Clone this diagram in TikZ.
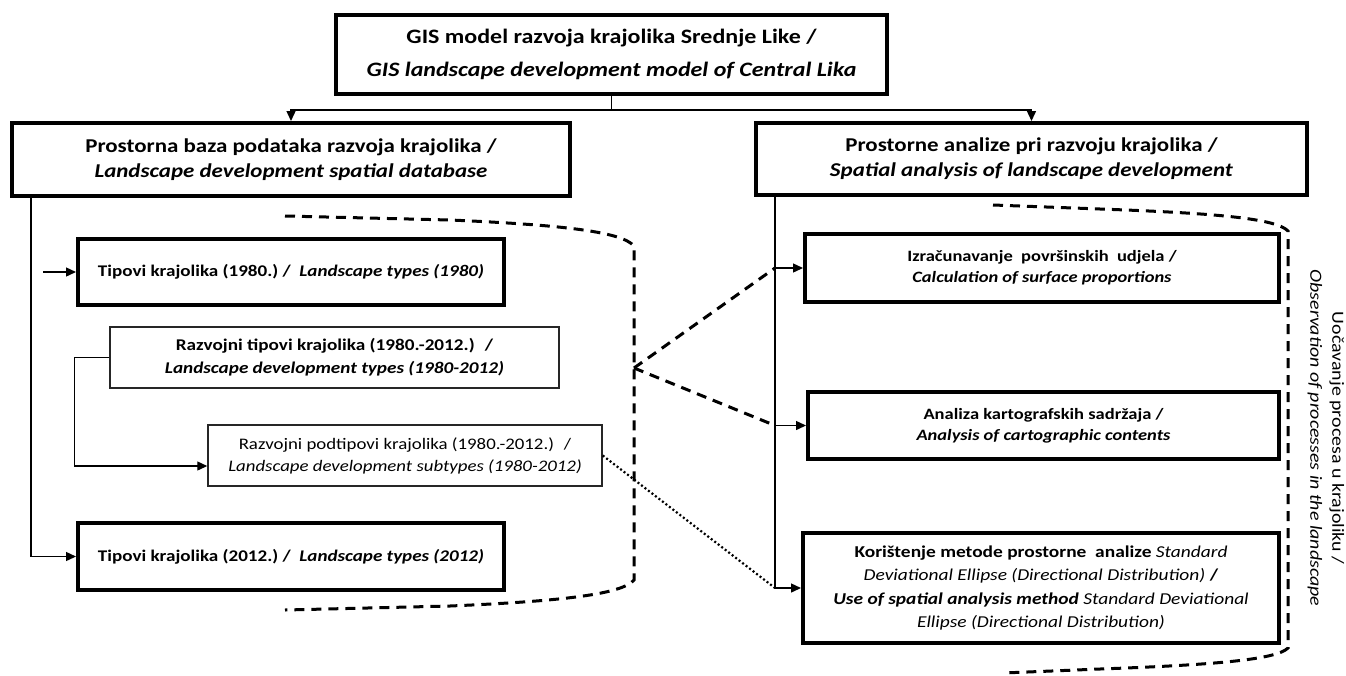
\documentclass[tikz,border=0pt]{standalone}
\usepackage{fontspec}
\setmainfont{Carlito}[FakeStretch=1.17]
\usepackage{tikz}
\usetikzlibrary{arrows.meta}

\begin{document}
\begin{tikzpicture}[x=1pt,y=-1pt,
	okvir/.style={draw=black,line width=4pt,align=center,inner sep=0pt},
	tanki/.style={draw=black!85,line width=1.5pt,align=center,inner sep=0pt},
	veza/.style={draw=black,line width=1.4pt},
	strelica/.style={-{Triangle[length=10pt,width=9pt]}},
	crtkano/.style={line width=3pt,dash pattern=on 10pt off 7pt},
	tockasto/.style={line width=2.2pt,dash pattern=on 2pt off 2.4pt}]
%	\draw[help lines](0,0)grid[step=50](1346,675);
	\useasboundingbox (0,0) rectangle (1346,675);
	
	% gornja razina
	\node[okvir,minimum width=551pt,minimum height=79pt,font=\fontsize{20.5}{33}\selectfont\bfseries] (model) at (611.5,54.5)
		{GIS model razvoja krajolika Srednje Like /\\\textit{GIS landscape development model of Central Lika}};
	\node[okvir,minimum width=558pt,minimum height=73pt,font=\fontsize{19.6}{25}\selectfont\bfseries] (base) at (291,159.5)
		{Prostorna baza podataka razvoja krajolika /\\\textit{Landscape development spatial database}};
	\node[okvir,minimum width=551pt,minimum height=72pt,font=\fontsize{19.6}{25}\selectfont\bfseries] (analiza) at (1031.5,159)
		{Prostorne analize pri razvoju krajolika /\\\textit{Spatial analysis of landscape development}};
	
	% lijeva strana
	\node[okvir,minimum width=426pt,minimum height=66pt,font=\fontsize{16.3}{22}\selectfont\bfseries] (tip80) at (291,272)
		{Tipovi krajolika (1980.)~/~ \textit{Landscape types (1980)}};
	\node[tanki,minimum width=449pt,minimum height=61pt,font=\fontsize{16.4}{23}\selectfont\bfseries] (razvoj) at (334.5,357.5)
		{Razvojni tipovi krajolika (1980.-2012.)~ /\\\textit{Landscape development types (1980-2012)}};
	\node[tanki,minimum width=394pt,minimum height=61pt,font=\fontsize{16.1}{22}\selectfont] (podtip) at (405,455.5)
		{Razvojni podtipovi krajolika (1980.-2012.)~ /\\\textit{Landscape development subtypes (1980-2012)}};
	\node[okvir,minimum width=426pt,minimum height=67pt,font=\fontsize{16.3}{22}\selectfont\bfseries] (tip12) at (291,556.5)
		{Tipovi krajolika (2012.)~/~ \textit{Landscape types (2012)}};
	
	% desna strana
	\node[okvir,minimum width=474pt,minimum height=68pt,font=\fontsize{15.8}{21}\selectfont\bfseries] (povrsina) at (1042,268)
		{Izračunavanje~ površinskih~ udjela /\\\textit{Calculation of surface proportions}};
	\node[okvir,minimum width=471pt,minimum height=67pt,font=\fontsize{15.8}{21}\selectfont\bfseries] (karta) at (1043.5,425.5)
		{Analiza kartografskih sadržaja /\\\textit{Analysis of cartographic contents}};
	\node[okvir,minimum width=476pt,minimum height=110pt,font=\fontsize{16.6}{23.5}\selectfont] (elipsa) at (1041,588)
		{\textbf{Korištenje metode prostorne~ analize} \textit{Standard}\\
		\textit{Deviational Ellipse (Directional Distribution)} \textbf{/}\\
		\textbf{\textit{Use of spatial analysis method}} \textit{Standard Deviational}\\
		\textit{Ellipse (Directional Distribution)}};
	
	\node[rotate=-90,align=center,font=\fontsize{17}{22}\selectfont] (proces) at (1326,438)
		{Uočavanje procesa u krajoliku /\\\textit{Observation of processes in the landscape}};
	
	% veze
	\draw[veza] (model.south) -- ++(0,14) coordinate (grana);
	\draw[veza,strelica] (grana) -| (base.north);
	\draw[veza,strelica] (grana) -| (analiza.north);
	
	\draw[veza,strelica] ([xshift=21pt]base.south west) |- (tip12.west);
	\draw[veza,strelica] ([xshift=-33pt]tip80.west) -- (tip80.west);
	\draw[veza,strelica] (razvoj.west) -- ++(-35,0) |- ([yshift=-10.5pt]podtip.west);
	
	\coordinate (os) at ([xshift=21pt]analiza.south west);
	\draw[veza,strelica] (os) |- (elipsa.west);
	\draw[veza,strelica] (povrsina.west -| os) -- (povrsina.west);
	\draw[veza,strelica] (karta.west -| os) -- (karta.west);
	
	% zagrade
	\draw[crtkano] (285,216) -- (450,220) .. controls (565,225) and (622,232) .. (634,246) -- (634,580)
		.. controls (622,594) and (565,601) .. (450,606) -- (285,610);
	\draw[crtkano] (993,205) -- (1100,209) .. controls (1210,213) and (1276,218) .. (1288,231) -- (1288,648)
		.. controls (1276,660) and (1210,665) .. (1100,669) -- (1003,673);
	
	\coordinate (vrh) at (634,368);
	\draw[crtkano] (vrh) -- (povrsina.west -| os);
	\draw[crtkano] (vrh) -- (karta.west -| os);
	\draw[tockasto] (podtip.east) -- (elipsa.west -| os);
	
\end{tikzpicture}
\end{document}
